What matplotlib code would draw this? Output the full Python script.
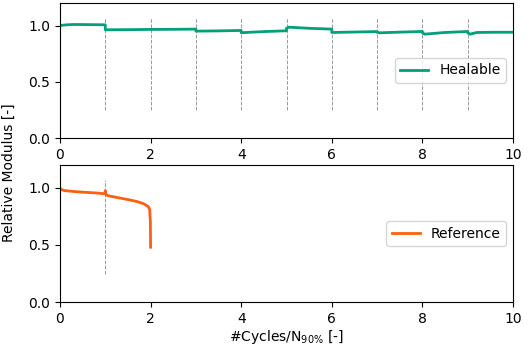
import matplotlib
matplotlib.use("Agg")
import matplotlib.pyplot as plt

# Healable series (x in cycles/N90%, y relative modulus)
heal_x = [0.0, 0.15, 0.3, 0.6, 1.0, 1.0, 1.5, 2.0, 2.5, 3.0, 3.0, 3.5, 4.0,
          4.0, 4.5, 5.0, 5.0, 5.05, 5.5, 6.0, 6.0, 6.5, 7.0, 7.0, 7.05, 7.5, 8.0,
          8.0, 8.05, 8.5, 9.0, 9.0, 9.05, 9.2, 9.6, 10.0]
heal_y = [1.0, 1.006, 1.009, 1.008, 1.006, 0.962, 0.963, 0.965, 0.966, 0.968, 0.95, 0.952, 0.956,
          0.936, 0.946, 0.953, 0.975, 0.985, 0.975, 0.968, 0.938, 0.942, 0.946, 0.94, 0.935, 0.941, 0.947,
          0.935, 0.923, 0.938, 0.947, 0.935, 0.923, 0.938, 0.94, 0.94]

# Reference series
ref_x = [0.0, 0.02, 0.1, 0.3, 0.5, 0.8, 0.99, 1.0, 1.01, 1.05, 1.2, 1.5, 1.7, 1.85, 1.95, 1.98, 1.995, 2.0]
ref_y = [1.0, 0.985, 0.976, 0.968, 0.962, 0.955, 0.948, 0.976, 0.945, 0.932, 0.92, 0.897, 0.88, 0.86, 0.835, 0.81, 0.7, 0.48]

heal_marks = [1, 2, 3, 4, 5, 6, 7, 8, 9]
ref_marks = [1]

green = "#00A07A"
orange = "#FF5F0F"

fig = plt.figure(figsize=(5.31, 3.45), dpi=100)
ax1 = fig.add_axes([60/531, 1 - 138/345, 453/531, 135/345])
ax2 = fig.add_axes([60/531, 1 - 302/345, 453/531, 137/345])

for ax, marks in ((ax1, heal_marks), (ax2, ref_marks)):
    ax.vlines(marks, 0.245, 1.07, colors="#999999", linestyles="--", linewidth=0.7)

ax1.plot(heal_x, heal_y, color=green, linewidth=2, label="Healable")
ax2.plot(ref_x, ref_y, color=orange, linewidth=2, label="Reference")

for ax in (ax1, ax2):
    ax.set_xlim(0, 10)
    ax.set_ylim(0, 1.2)
    ax.set_xticks([0, 2, 4, 6, 8, 10])
    ax.set_yticks([0.0, 0.5, 1.0])
    ax.legend(loc="center right", fontsize=10)

ax2.set_xlabel("#Cycles/N$_{90\\%}$ [-]", fontsize=10, labelpad=2)
fig.text(0.017, 0.5, "Relative Modulus [-]", rotation=90, va="center", ha="center", fontsize=10)

fig.savefig("out.png", dpi=100)
